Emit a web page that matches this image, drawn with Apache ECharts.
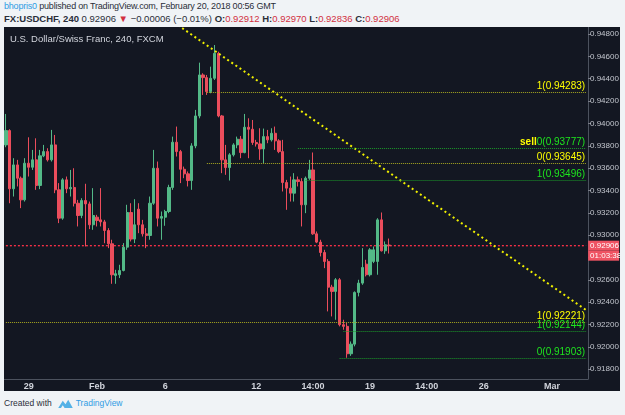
<!DOCTYPE html>
<html>
<head>
<meta charset="utf-8">
<script src="https://cdn.jsdelivr.net/npm/echarts@6/dist/echarts.min.js"></script>
<style>
  body { margin: 0; background: #f0f3f6; font-family: "Liberation Sans", Arial, sans-serif; }
  #page { position: relative; width: 625px; height: 415px; overflow: hidden; }
  .hdr { position: absolute; left: 4px; font-size: 9.5px; color: #2a2e39; white-space: nowrap; }
  #l1 { top: 1px; font-size: 9px; letter-spacing: -0.2px; }
  #l2 { top: 13px; }
  .blue { color: #2f9ce4; }
  .red { color: #d2303f; }
  b { font-weight: bold; }
  #chart { position: absolute; left: 4px; top: 27px; width: 616px; height: 364px; background: #131722; }
  #foot { position: absolute; left: 4px; top: 398px; font-size: 8.5px; color: #2a2e39; white-space: nowrap; }
  #foot svg { vertical-align: -2px; margin: 0 3px 0 6px; }
</style>
</head>
<body>
<div id="page">
  <div class="hdr" id="l1"><span class="blue">bhopris0</span> published on TradingView.com, February 20, 2018 00:56 GMT</div>
  <div class="hdr" id="l2"><b>FX:USDCHF, 240</b> 0.92906 <span class="red">&#9660;</span> &minus;0.00006 (&minus;0.01%) <b>O:</b><span class="red">0.92912</span> <b>H:</b><span class="red">0.92970</span> <b>L:</b><span class="red">0.92836</span> <b>C:</b><span class="red">0.92906</span></div>
  <div id="chart"></div>
  <div id="foot">Created with<svg width="15" height="10" viewBox="0 0 16 11"><path d="M0 11 L5 3 L8 7 L11 2 L16 11 Z" fill="#53b1e6"/><path d="M3 11 L5 8 L7 11 Z" fill="#f0f3f6"/></svg><span class="blue">TradingView</span></div>
</div>
<script>
// trading days shown on the axis (4h bars, 6 per day)
const days = ['Jan 26', 'Jan 29', 'Jan 30', 'Jan 31', 'Feb 1', 'Feb 2', 'Feb 5', 'Feb 6', 'Feb 7', 'Feb 8', 'Feb 9',
  'Feb 12', 'Feb 13', 'Feb 14', 'Feb 15', 'Feb 16', 'Feb 19', 'Feb 20', 'Feb 21', 'Feb 22', 'Feb 23',
  'Feb 26', 'Feb 27', 'Feb 28', 'Mar 1', 'Mar 2'];
const hours = ['02:00', '06:00', '10:00', '14:00', '18:00', '22:00'];
const lastCategory = 'Mar 2 14:00';
const categories = [];
days.forEach(d => hours.forEach(h => categories.push(d + ' ' + h)));
categories.splice(categories.indexOf(lastCategory) + 1);

const xTickLabels = {
  'Jan 29 02:00': '29', 'Feb 1 02:00': 'Feb', 'Feb 6 02:00': '6', 'Feb 12 02:00': '12',
  'Feb 14 14:00': '14:00', 'Feb 19 02:00': '19', 'Feb 21 14:00': '14:00', 'Feb 26 02:00': '26',
  'Mar 1 02:00': 'Mar'
};

const opens = [0.93808, 0.93936, 0.93415, 0.93629, 0.93510, 0.93316, 0.93644, 0.93608, 0.93674, 0.93445,
  0.93710, 0.93748, 0.93674, 0.93808, 0.93406, 0.93152, 0.93495, 0.93415, 0.93427, 0.93286,
  0.93176, 0.93310, 0.93280, 0.93093, 0.93161, 0.93137, 0.93119, 0.93042, 0.92923, 0.92640,
  0.92646, 0.92684, 0.92893, 0.93203, 0.92965, 0.93233, 0.93093, 0.93012, 0.92997, 0.93286,
  0.93599, 0.93152, 0.93161, 0.93212, 0.93427, 0.93832, 0.93748, 0.93590, 0.93549, 0.93489,
  0.93799, 0.94067, 0.94434, 0.94410, 0.94285, 0.94404, 0.94627, 0.94067, 0.93674, 0.93605,
  0.93719, 0.93808, 0.93859, 0.93739, 0.93966, 0.93948, 0.93829, 0.93817, 0.93772, 0.93882,
  0.93853, 0.93912, 0.93844, 0.93748, 0.93471, 0.93421, 0.93376, 0.93495, 0.93480, 0.93272,
  0.93510, 0.93584, 0.93012, 0.92938, 0.92845, 0.92765, 0.92535, 0.92497, 0.92601, 0.92199,
  0.92184, 0.91939, 0.92025, 0.92488, 0.92571, 0.92741, 0.92646, 0.92765, 0.92765, 0.93137,
  0.92860, 0.92912];
const closes = [0.93936, 0.93415, 0.93629, 0.93510, 0.93316, 0.93644, 0.93608, 0.93674, 0.93445, 0.93710,
  0.93748, 0.93674, 0.93808, 0.93406, 0.93152, 0.93495, 0.93415, 0.93427, 0.93286, 0.93176,
  0.93310, 0.93280, 0.93093, 0.93176, 0.93131, 0.93119, 0.93042, 0.92923, 0.92646, 0.92655,
  0.92684, 0.92893, 0.93203, 0.92965, 0.93093, 0.93093, 0.93012, 0.92997, 0.93286, 0.93599,
  0.93152, 0.93167, 0.93212, 0.93427, 0.93832, 0.93748, 0.93590, 0.93549, 0.93489, 0.93799,
  0.94067, 0.94434, 0.94410, 0.94285, 0.94404, 0.94627, 0.94067, 0.93674, 0.93605, 0.93719,
  0.93808, 0.93859, 0.93739, 0.93966, 0.93948, 0.93829, 0.93817, 0.93772, 0.93882, 0.93853,
  0.93912, 0.93844, 0.93748, 0.93471, 0.93421, 0.93376, 0.93495, 0.93480, 0.93272, 0.93510,
  0.93584, 0.93012, 0.92938, 0.92845, 0.92765, 0.92535, 0.92497, 0.92601, 0.92199, 0.92184,
  0.91939, 0.92025, 0.92488, 0.92571, 0.92711, 0.92646, 0.92869, 0.92869, 0.93137, 0.92860,
  0.92914, 0.92906];
const lows = [0.93787, 0.93286, 0.93346, 0.93436, 0.93242, 0.93301, 0.93525, 0.93584, 0.93406, 0.93412,
  0.93698, 0.93659, 0.93659, 0.93376, 0.93108, 0.93138, 0.93376, 0.93346, 0.93257, 0.93078,
  0.93152, 0.92899, 0.93054, 0.93048, 0.93078, 0.93078, 0.92928, 0.92884, 0.92565, 0.92565,
  0.92616, 0.92676, 0.92869, 0.92944, 0.92929, 0.93018, 0.92988, 0.92884, 0.92959, 0.93272,
  0.93078, 0.92959, 0.93084, 0.93197, 0.93406, 0.93704, 0.93466, 0.93510, 0.93436, 0.93406,
  0.93778, 0.94046, 0.94255, 0.94255, 0.94270, 0.94389, 0.94055, 0.93555, 0.93540, 0.93489,
  0.93704, 0.93778, 0.93689, 0.93733, 0.93689, 0.93808, 0.93793, 0.93674, 0.93644, 0.93823,
  0.93838, 0.93763, 0.93734, 0.93391, 0.93227, 0.93301, 0.93301, 0.93436, 0.93078, 0.93197,
  0.93495, 0.93003, 0.92929, 0.92810, 0.92705, 0.92318, 0.92273, 0.92243, 0.92184, 0.92154,
  0.91903, 0.91920, 0.92005, 0.92452, 0.92556, 0.92631, 0.92631, 0.92750, 0.92646, 0.92854,
  0.92833, 0.92836];
const highs = [0.94085, 0.93948, 0.93689, 0.93674, 0.93525, 0.93689, 0.93876, 0.93763, 0.93867, 0.93763,
  0.93808, 0.93778, 0.93942, 0.93897, 0.93466, 0.93510, 0.93525, 0.93584, 0.93599, 0.93316,
  0.93331, 0.93460, 0.93301, 0.93421, 0.93182, 0.93421, 0.93137, 0.93063, 0.92959, 0.92690,
  0.92735, 0.92929, 0.93272, 0.93286, 0.93322, 0.93286, 0.93137, 0.93063, 0.93346, 0.93763,
  0.93659, 0.93212, 0.93227, 0.93451, 0.93882, 0.93972, 0.93763, 0.93614, 0.93570, 0.93823,
  0.94121, 0.94544, 0.94449, 0.94434, 0.94508, 0.94702, 0.94642, 0.94076, 0.93808, 0.93734,
  0.93823, 0.93882, 0.93888, 0.94085, 0.94046, 0.94031, 0.93853, 0.93957, 0.93954, 0.93942,
  0.93957, 0.93972, 0.93859, 0.93853, 0.93495, 0.93525, 0.93555, 0.93525, 0.93510, 0.93525,
  0.93674, 0.93740, 0.93033, 0.92959, 0.92869, 0.92786, 0.92556, 0.92616, 0.92616, 0.92243,
  0.92214, 0.92049, 0.92497, 0.92601, 0.92884, 0.92780, 0.92884, 0.92899, 0.93152, 0.93203,
  0.92944, 0.92970];

// fibonacci / retracement levels drawn on the chart
const fibPrices = [0.94283, 0.93777, 0.93645, 0.93496, 0.92221, 0.92144, 0.91903];
const fibTags = ['1', 'sell', '0', '1', '1', '1', '0'];
const fibFrom = ['Feb 7 22:00', 'Feb 13 22:00', 'Feb 7 22:00', 'Feb 14 06:00', 'Jan 26 02:00', 'Feb 15 22:00', 'Feb 15 18:00'];
const fibKind = ['y', 'g', 'y', 'g', 'y', 'g', 'g'];

// descending trend line
const trendCats = ['Feb 5 18:00', 'Mar 2 14:00'];
const trendPrices = [0.95007, 0.92330];

const lastPrice = 0.92906;
const countdown = '01:03:38';

const chart = echarts.init(document.getElementById('chart'));
const candles = opens.map((o, i) => [o, closes[i], lows[i], highs[i]]);

const fibColor = { y: '#ffff00', g: '#1ee61e' };
const fibLine = { y: '#a8a820', g: '#1c9a2a' };
const fibLines = fibPrices.map((p, i) => {
  const k = fibKind[i];
  const txt = fibTags[i] === 'sell'
    ? '{s|sell}{g|0(' + p.toFixed(5) + ')}'
    : '{' + k + '|' + fibTags[i] + '(' + p.toFixed(5) + ')}';
  return [
    { coord: [fibFrom[i], p], lineStyle: { color: fibLine[k] },
      label: { formatter: txt } },
    { coord: [lastCategory, p] }
  ];
});

const boxText = {
  color: '#fff', backgroundColor: '#ef5363', fontSize: 8,
  padding: [1, 1, 1, 2], width: 28, lineHeight: 10
};

const option = {
  animation: false,
  backgroundColor: 'transparent',
  textStyle: { fontFamily: 'Liberation Sans, Arial, sans-serif' },
  title: {
    text: 'U.S. Dollar/Swiss Franc, 240, FXCM',
    left: 6, top: 7, padding: 0,
    textStyle: { color: '#d1d4dc', fontSize: 9.5, fontWeight: 'normal' }
  },
  grid: { left: 0, right: 32, top: 0, bottom: 12, outerBoundsMode: 'none', containLabel: false },
  xAxis: {
    type: 'category',
    data: categories,
    boundaryGap: true,
    axisLine: { lineStyle: { color: '#4c525e' } },
    axisTick: {
      alignWithLabel: true, length: 3,
      interval: (i, v) => v in xTickLabels,
      lineStyle: { color: '#787b86' }
    },
    axisLabel: {
      interval: (i, v) => v in xTickLabels,
      formatter: v => xTickLabels[v] || '',
      color: '#d1d4dc', fontSize: 9, fontWeight: 'bold', margin: 3
    },
    splitLine: { show: false }
  },
  yAxis: {
    type: 'value',
    position: 'right',
    min: 0.91713,
    max: 0.94863,
    splitNumber: 15,
    axisLine: { show: true, lineStyle: { color: '#4c525e' } },
    axisTick: { show: true, length: 3, lineStyle: { color: '#787b86' } },
    axisLabel: {
      color: '#c3c6ce', fontSize: 8, margin: 2,
      showMinLabel: false, showMaxLabel: false,
      formatter: v => v.toFixed(5)
    },
    splitLine: { show: false }
  },
  series: [
    {
      type: 'candlestick',
      data: candles,
      barWidth: '72%',
      itemStyle: {
        color: '#53b987', color0: '#eb4d5c',
        borderColor: '#53b987', borderColor0: '#eb4d5c', borderWidth: 1
      },
      markLine: {
        silent: true,
        symbol: 'none',
        animation: false,
        lineStyle: { type: 'dotted', width: 1 },
        label: {
          position: 'insideEndTop', distance: 1, fontSize: 10,
          rich: {
            y: { color: fibColor.y, fontSize: 10 },
            g: { color: fibColor.g, fontSize: 10 },
            s: { color: fibColor.y, fontSize: 10, fontWeight: 'bold' }
          }
        },
        data: fibLines
      }
    },
    {
      // last price line with its axis tag
      type: 'line',
      data: [[categories[0], lastPrice], [lastCategory, lastPrice]],
      symbol: 'none',
      silent: true,
      lineStyle: { color: '#ff3048', type: [2, 2], width: 1.3 },
      endLabel: {
        show: true,
        distance: 2,
        padding: [10, 0, 0, 0],
        formatter: '{b|' + lastPrice.toFixed(5) + '}\n{b|' + countdown + '}',
        rich: { b: boxText }
      },
      z: 2
    },
    {
      type: 'line',
      data: trendCats.map((c, i) => [c, trendPrices[i]]),
      symbol: 'none',
      silent: true,
      clip: true,
      lineStyle: { color: '#f0f000', type: [2, 3], width: 2 },
      z: 3
    }
  ]
};
chart.setOption(option);
</script>
</body>
</html>
